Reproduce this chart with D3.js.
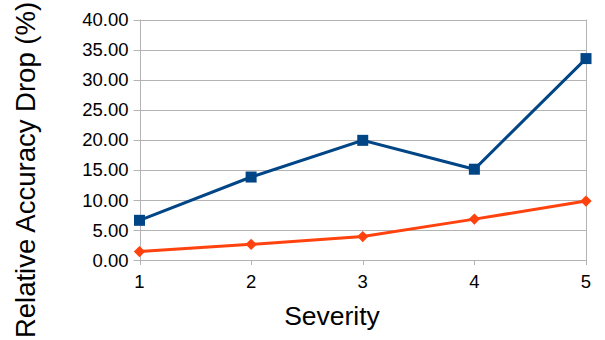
<!DOCTYPE html>
<html lang="en">
<head>
  <meta charset="UTF-8">
  <title>Relative Accuracy Drop</title>
  <script src="https://d3js.org/d3.v7.min.js"></script>
  <style>
    html, body {
      margin: 0;
      padding: 0;
      background: #fff;
      font-family: 'Liberation Sans', Arial, sans-serif;
    }
    svg { display: block; }
  </style>
</head>
<body>
<svg width="605" height="340"></svg>
<script>
  const severities = [1, 2, 3, 4, 5];
  const blueSeries = [6.6, 13.8, 19.9, 15.1, 33.5];
  const orangeSeries = [1.4, 2.6, 3.9, 6.8, 9.8];
  const yTicks = [0, 5, 10, 15, 20, 25, 30, 35, 40];

  const svg = d3.select("svg");
  const margin = { top: 19.5, right: 19, bottom: 80, left: 139.5 };
  const W = 605, H = 340;

  const x = d3.scaleLinear().domain([1, 5]).range([margin.left, W - margin.right]);
  const y = d3.scaleLinear().domain([0, 40]).range([H - margin.bottom, margin.top]);

  // grid
  svg.append("g").selectAll("line").data(yTicks).join("line")
    .attr("x1", x(1) - 6).attr("x2", x(5))
    .attr("y1", d => Math.round(y(d)) + 0.5).attr("y2", d => Math.round(y(d)) + 0.5)
    .attr("stroke", "#b3b3b3");

  // left axis and right border
  [x(1), x(5)].forEach(px => {
    svg.append("line")
      .attr("x1", Math.round(px) + 0.5).attr("x2", Math.round(px) + 0.5)
      .attr("y1", y(40)).attr("y2", y(0) + 5)
      .attr("stroke", "#b3b3b3");
  });

  // x ticks
  svg.append("g").selectAll("line").data(severities).join("line")
    .attr("x1", d => Math.round(x(d)) + 0.5).attr("x2", d => Math.round(x(d)) + 0.5)
    .attr("y1", y(0)).attr("y2", y(0) + 5)
    .attr("stroke", "#b3b3b3");

  // y tick labels
  svg.append("g").selectAll("text").data(yTicks).join("text")
    .attr("x", x(1) - 11).attr("y", d => y(d))
    .attr("dy", "0.36em")
    .attr("text-anchor", "end")
    .attr("font-size", 18.5)
    .text(d => d.toFixed(2));

  // x tick labels
  svg.append("g").selectAll("text").data(severities).join("text")
    .attr("x", d => x(d)).attr("y", y(0) + 28)
    .attr("text-anchor", "middle")
    .attr("font-size", 18.5)
    .text(d => d);

  // axis titles
  svg.append("text")
    .attr("x", 332).attr("y", 325)
    .attr("text-anchor", "middle")
    .attr("font-size", 26.5)
    .text("Severity");

  svg.append("text")
    .attr("transform", "translate(35,170) rotate(-90)")
    .attr("text-anchor", "middle")
    .attr("font-size", 27.5)
    .text("Relative Accuracy Drop (%)");

  const line = d3.line().x((d, i) => x(severities[i])).y(d => y(d));

  // orange series
  svg.append("path").datum(orangeSeries)
    .attr("d", line).attr("fill", "none")
    .attr("stroke", "#ff420e").attr("stroke-width", 3);
  svg.append("g").selectAll("path").data(orangeSeries).join("path")
    .attr("d", d3.symbol(d3.symbolSquare, 64))
    .attr("transform", (d, i) => `translate(${x(severities[i])},${y(d)}) rotate(45)`)
    .attr("fill", "#ff420e");

  // blue series
  svg.append("path").datum(blueSeries)
    .attr("d", line).attr("fill", "none")
    .attr("stroke", "#004586").attr("stroke-width", 3);
  svg.append("g").selectAll("rect").data(blueSeries).join("rect")
    .attr("x", (d, i) => x(severities[i]) - 5.5).attr("y", d => y(d) - 5.5)
    .attr("width", 11).attr("height", 11)
    .attr("fill", "#004586");
</script>
</body>
</html>
